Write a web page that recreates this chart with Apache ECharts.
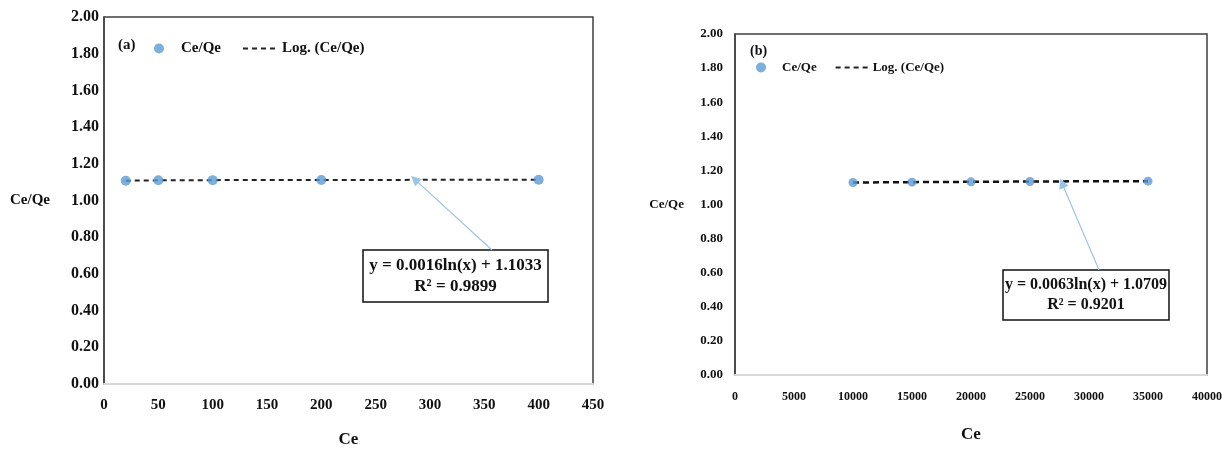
<!DOCTYPE html>
<html><head><meta charset="utf-8">
<script src="https://cdn.jsdelivr.net/npm/echarts@6/dist/echarts.min.js"></script>
<style>html,body{margin:0;padding:0;background:#fff}#c{width:1225px;height:449px}</style>
</head><body><div id="c"></div>
<script>
// ---- data ----
const ceA = [20, 50, 100, 200, 400];
const ratioA = [1.108, 1.110, 1.111, 1.112, 1.113];
const trendA = [1.108, 1.110, 1.111, 1.112, 1.113];
const ceB = [10000, 15000, 20000, 25000, 35000];
const ratioB = [1.129, 1.131, 1.133, 1.135, 1.137];
const trendB = [1.129, 1.131, 1.133, 1.135, 1.137];
const xRangeA = [0, 450, 50];
const xRangeB = [0, 40000, 5000];
const yRange = [0, 2, 0.2];
const eqA = ['y = 0.0016ln(x) + 1.1033', 'R² = 0.9899'];
const eqB = ['y = 0.0063ln(x) + 1.0709', 'R² = 0.9201'];
const panelNames = ['(a)', '(b)'];
const seriesNames = ['Ce/Qe', 'Log. (Ce/Qe)'];
const axisNames = { x: 'Ce', y: 'Ce/Qe' };
// arrow: [tail (at box), head (on trend line)] in data coordinates
const arrowA = [[357, 0.73], [286, 1.115]];
const arrowB = [[30850, 0.616], [27710, 1.125]];

const FONT = '"Liberation Serif", "Times New Roman", serif';
const TXT = '#111';
const zip = (a, b) => a.map((v, i) => [v, b[i]]);

function xAxis(idx, r, fs, margin, gap) {
  return {
    gridIndex: idx, type: 'value', min: r[0], max: r[1], interval: r[2],
    name: axisNames.x, nameLocation: 'middle', nameGap: gap,
    nameTextStyle: { fontFamily: FONT, fontWeight: 'bold', fontSize: 17, color: TXT },
    axisLine: { show: true, lineStyle: { color: '#d9d9d9', width: 2 } },
    axisTick: { show: false }, splitLine: { show: false },
    axisLabel: { fontFamily: FONT, fontWeight: 'bold', fontSize: fs, color: TXT, margin: margin,
      formatter: v => String(v) }
  };
}
function yAxis(idx, fs, margin, gap, nfs) {
  return {
    gridIndex: idx, type: 'value', min: yRange[0], max: yRange[1], interval: yRange[2],
    name: axisNames.y, nameLocation: 'middle', nameGap: gap, nameRotate: 0,
    nameTextStyle: { fontFamily: FONT, fontWeight: 'bold', fontSize: nfs, color: TXT },
    axisLine: { show: true, lineStyle: { color: '#404040', width: 1.5 } },
    axisTick: { show: false }, splitLine: { show: false },
    axisLabel: { fontFamily: FONT, fontWeight: 'bold', fontSize: fs, color: TXT, margin: margin,
      formatter: v => v.toFixed(2) }
  };
}
function arrowMark(a) {
  return {
    silent: true, animation: false,
    symbol: ['none', 'triangle'], symbolSize: 10,
    label: { show: false },
    lineStyle: { color: '#9dc3e6', width: 1.2, type: 'solid' },
    itemStyle: { color: '#6fa8dc' },
    emphasis: { disabled: true },
    data: [[{ coord: a[0] }, { coord: a[1] }]]
  };
}
function legend(left, top, iw, fs, gap) {
  return {
    left: left, top: top, itemWidth: iw, itemHeight: 10, itemGap: gap,
    textStyle: { fontFamily: FONT, fontWeight: 'bold', fontSize: fs, color: TXT },
    data: [{ name: seriesNames[0], icon: 'circle' },
           { name: seriesNames[1], itemStyle: { color: 'rgba(0,0,0,0)', borderColor: 'rgba(0,0,0,0)' } }]
  };
}
function box(x, y, w, h, lines, fs, lh) {
  const cx = x + w / 2, top = y + (h - lh * lines.length) / 2;
  const children = [{
    type: 'rect', shape: { x: x, y: y, width: w, height: h },
    style: { fill: '#fff', stroke: '#111', lineWidth: 1.5 }
  }];
  lines.forEach((t, i) => children.push({
    type: 'text', x: cx, y: top + lh * i + lh / 2,
    style: { text: t, fill: TXT, font: 'bold ' + fs + 'px ' + FONT, align: 'center', verticalAlign: 'middle' }
  }));
  return { type: 'group', children: children };
}

const chart = echarts.init(document.getElementById('c'), null, { renderer: 'canvas' });
chart.setOption({
  animation: false,
  backgroundColor: '#fff',
  title: [
    { text: panelNames[0], left: 113, top: 33, textStyle: { fontFamily: FONT, fontWeight: 'bold', fontSize: 15, color: TXT } },
    { text: panelNames[1], left: 745, top: 39, textStyle: { fontFamily: FONT, fontWeight: 'bold', fontSize: 14, color: TXT } }
  ],
  legend: [legend(149, 36, 34, 15, 21), legend(751, 56, 32, 13, 18)],
  grid: [
    { left: 104, top: 17, width: 489, height: 367, show: true, borderColor: '#404040', borderWidth: 1.5,
      containLabel: false, outerBoundsMode: 'none' },
    { left: 735, top: 34, width: 472, height: 341, show: true, borderColor: '#404040', borderWidth: 1.5,
      containLabel: false, outerBoundsMode: 'none' }
  ],
  xAxis: [xAxis(0, xRangeA, 15, 14, 47), xAxis(1, xRangeB, 12, 16, 51)],
  yAxis: [yAxis(0, 16, 5, 54, 15), yAxis(1, 13, 12, 51, 13)],
  series: [
    { name: seriesNames[1], type: 'line', xAxisIndex: 0, yAxisIndex: 0, data: zip(ceA, trendA),
      symbol: 'none', z: 2, lineStyle: { color: '#222', width: 2, type: [5, 4] }, itemStyle: { color: '#222' },
      markLine: arrowMark(arrowA) },
    { name: seriesNames[0], type: 'scatter', xAxisIndex: 0, yAxisIndex: 0, data: zip(ceA, ratioA),
      symbolSize: 10, z: 3, itemStyle: { color: '#5b9bd5' } },
    { name: seriesNames[1], type: 'line', xAxisIndex: 1, yAxisIndex: 1, data: zip(ceB, trendB),
      symbol: 'none', z: 2, lineStyle: { color: '#111', width: 2.5, type: [6, 4] }, itemStyle: { color: '#111' },
      markLine: arrowMark(arrowB) },
    { name: seriesNames[0], type: 'scatter', xAxisIndex: 1, yAxisIndex: 1, data: zip(ceB, ratioB),
      symbolSize: 9, z: 3, itemStyle: { color: '#5b9bd5' } }
  ],
  graphic: [
    box(363, 250, 185, 52, eqA, 17, 21),
    box(1003, 270, 166, 50, eqB, 16, 20)
  ]
});
</script>
</body></html>
